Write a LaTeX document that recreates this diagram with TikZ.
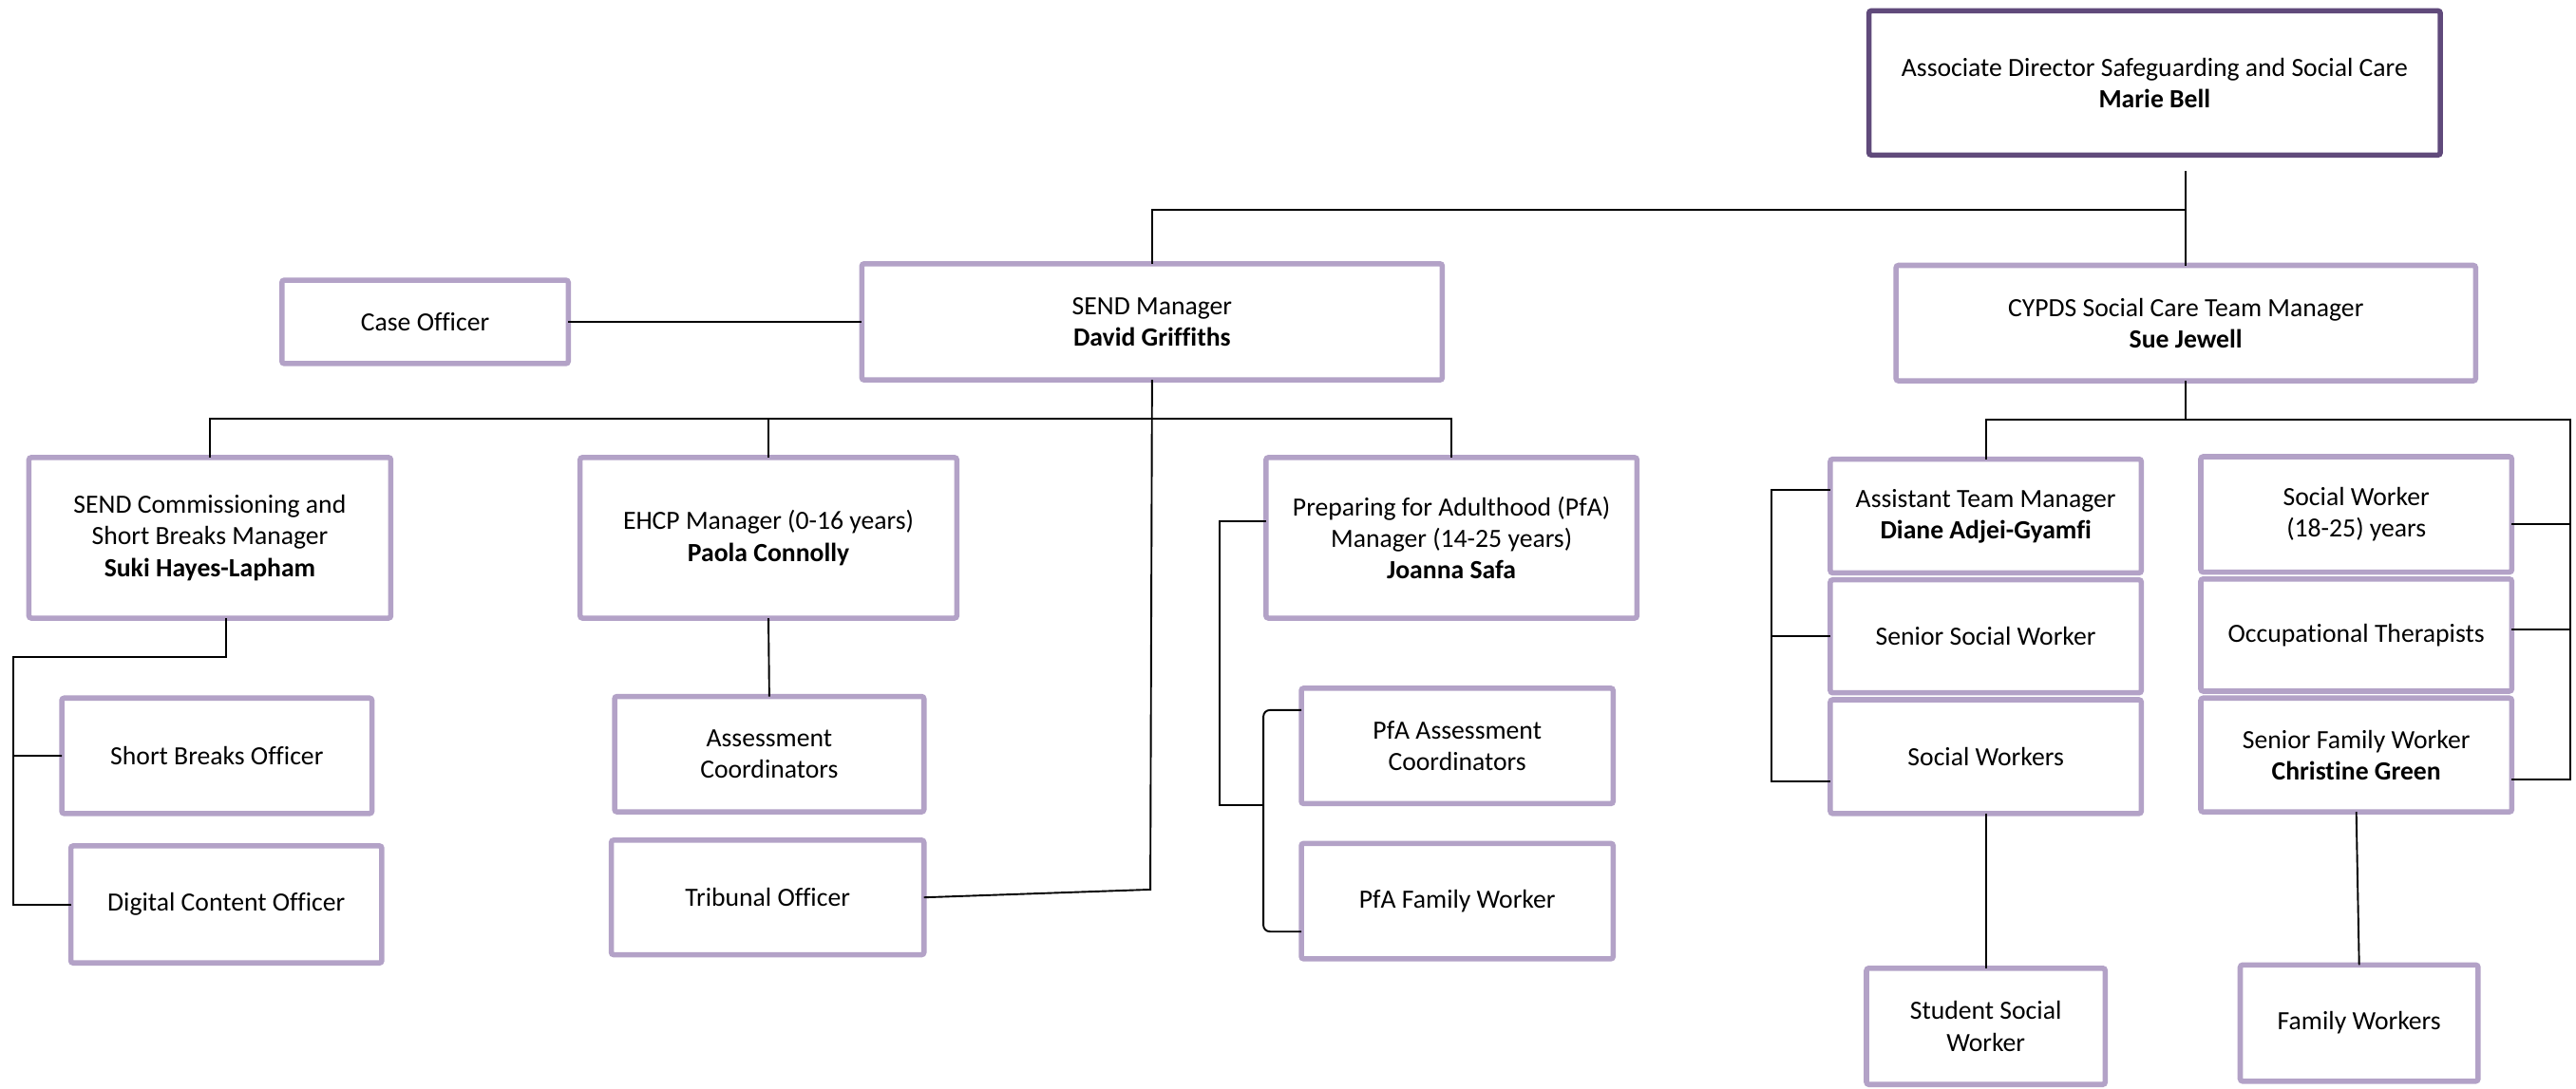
\documentclass[tikz,border=0pt]{standalone}
\usepackage{fontspec}
\setmainfont{Carlito}[Ligatures=NoCommon]
\definecolor{lpurple}{RGB}{179,162,199}
\definecolor{dpurple}{RGB}{96,74,123}
\tikzset{
  box/.style={draw=lpurple, line width=3.2pt, fill=white, align=center,
    inner sep=0pt, outer sep=0pt, rounded corners=1.5pt,
    font=\fontsize{16}{19.3}\selectfont},
  topbox/.style={box, draw=dpurple},
  conn/.style={draw=black, line width=1.1pt}
}
\newcommand{\bx}[7][]{%
  \node[box,#1, minimum width={(#4-#2-3.2)*1pt}, minimum height={(#5-#3-3.2)*1pt}]
    (#6) at ({(#2+#4)/2},{(#3+#5)/2}) {#7};}
\begin{document}
\begin{tikzpicture}[x=1pt,y=-1pt]
\fill[white] (0,0) rectangle (1568,663);
\useasboundingbox (0,0) rectangle (1568,663);

% boxes
\bx[topbox]{1136}{5}{1487}{96}{top}{Associate Director Safeguarding and Social Care\\\textbf{Marie Bell}}
\bx{170}{169}{347.5}{223}{case}{Case Officer}
\bx{523}{159}{879.5}{233}{send}{SEND Manager\\\textbf{David Griffiths}}
\bx{1152.5}{160}{1508.5}{233.5}{cy}{CYPDS Social Care Team Manager\\\textbf{Sue Jewell}}
\bx{16}{277}{239.5}{378}{comm}{SEND Commissioning and\\Short Breaks Manager\\\textbf{Suki Hayes-Lapham}}
\bx{351.5}{277}{584}{378}{ehcp}{EHCP Manager (0-16 years)\\\textbf{Paola Connolly}}
\bx{769}{277}{998}{378}{pfa}{Preparing for Adulthood (PfA)\\Manager (14-25 years)\\\textbf{Joanna Safa}}
\bx{1112.5}{278}{1305}{350.5}{atm}{Assistant Team Manager\\\textbf{Diane Adjei-Gyamfi}}
\bx{1112.5}{351.5}{1305}{423.5}{ssw}{Senior Social Worker}
\bx{1112.5}{424.5}{1305}{497}{sws}{Social Workers}
\bx{1338}{276.5}{1530.5}{350}{swy}{Social Worker\\(18-25) years}
\bx{1338}{351}{1530.5}{422.5}{ot}{Occupational Therapists}
\bx{1338}{423.5}{1530.5}{496}{sfw}{Senior Family Worker\\\textbf{Christine Green}}
\bx{36}{423.5}{228}{497}{sbo}{Short Breaks Officer}
\bx{41.5}{513.5}{234}{588}{dco}{Digital Content Officer}
\bx{372.5}{422.5}{564}{496}{ac}{Assessment\\Coordinators}
\bx{370.5}{510}{564}{583}{trib}{Tribunal Officer}
\bx{790.5}{417.5}{983.5}{491}{pac}{PfA Assessment\\Coordinators}
\bx{790.5}{512}{983.5}{585.5}{pfw}{PfA Family Worker}
\bx{1134.5}{588}{1283}{662}{stu}{Student Social\\Worker}
\bx{1362}{586}{1510}{660}{fw}{Family Workers}

% helper coordinates
\coordinate (topstem) at (1330.5,104);
\coordinate (j1) at (1330.5,127.7);
\coordinate (sendbend) at (700.2,541.7);
\coordinate (sh) at (701,255);
\coordinate (cbl) at (8.1,400);
\coordinate (sbs) at (8.1,460.2);
\coordinate (po1) at (742.2,317.4);
\coordinate (po2) at (742.2,490.4);
\coordinate (pb1) at (769,432.4);
\coordinate (pb2) at (769,567.3);
\coordinate (ch) at (1330.5,255.4);
\coordinate (cr) at (1564.3,255.4);
\coordinate (rb1) at (1564.3,319);
\coordinate (rb2) at (1564.3,383.4);
\coordinate (rb3) at (1564.3,474.5);
\coordinate (lb1) at (1078.2,298.5);
\coordinate (lb2) at (1078.2,387.4);
\coordinate (lb3) at (1078.2,475.6);

% connectors
\draw[conn] (cy.north) -- (topstem);
\draw[conn] (j1) -| (send.north);
\draw[conn] (case.east) -- (send.west);
\draw[conn] (send.south) -- (sendbend) -- (trib.east);
\draw[conn] (comm.north) |- (sh) -| (pfa.north);
\draw[conn] (ehcp.north) -- (ehcp.north |- sh);
\draw[conn] ([xshift=9.9pt]comm.south) |- (cbl) |- (dco.west);
\draw[conn] (sbs) -- (sbo.west);
\draw[conn] (ehcp.south) -- (ac.north);
\draw[conn] (pfa.west |- po1) -- (po1) -- (po2) -- (pb1 |- po2);
\draw[conn, rounded corners=4pt] (pac.west |- pb1) -- (pb1) -- (pb2) -- (pfw.west |- pb2);
\draw[conn] (cy.south) -- (ch);
\draw[conn] (atm.north) |- (cr) -- (rb3) -- (sfw.east |- rb3);
\draw[conn] (swy.east |- rb1) -- (rb1);
\draw[conn] (ot.east |- rb2) -- (rb2);
\draw[conn] (atm.west |- lb1) -- (lb1) -- (lb3) -- (sws.west |- lb3);
\draw[conn] (ssw.west |- lb2) -- (lb2);
\draw[conn] (sws.south) -- (stu.north);
\draw[conn] (sfw.south) -- (fw.north);
\end{tikzpicture}
\end{document}
